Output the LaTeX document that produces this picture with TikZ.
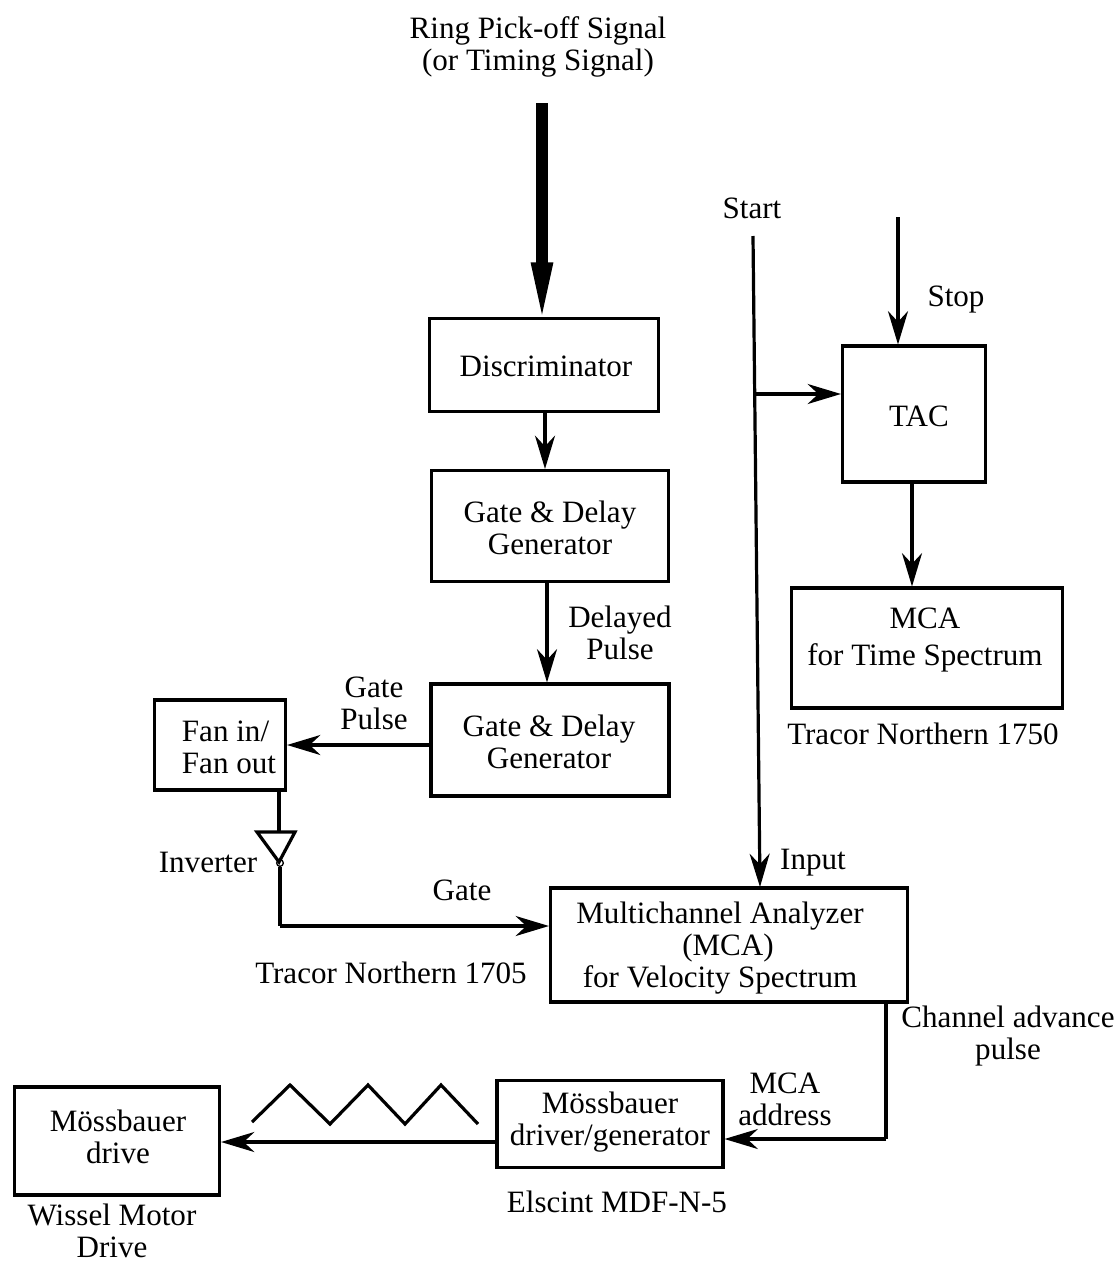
\documentclass[tikz,border=0pt]{standalone}
\usepackage{fontspec}
\setmainfont{Liberation Serif}
\usetikzlibrary{arrows.meta}
\tikzset{
  box/.style={draw,line width=2.3pt,inner sep=0pt},
  lbl/.style={inner sep=0pt,align=center,font=\fontsize{23.3}{24}\selectfont},
  conn/.style={line width=2.4pt,-{Stealth[length=25pt,width=15pt,inset=8pt]}},
  wire/.style={line width=2.4pt,line join=miter},
  bigarrow/.style={line width=8.5pt,shorten >=-9pt,-{Triangle[length=50pt,width=14pt]}}
}
\newcommand{\bx}[8]{\node[box,minimum width=#4*0.75pt,minimum height=#5*0.75pt,
  label={[lbl,xshift=#6*0.75pt,yshift=#7*-0.75pt]center:{#8}}] (#1) at (#2,#3) {};}
\begin{document}
\begin{tikzpicture}[x=0.75pt,y=-0.75pt]
\useasboundingbox (0,0) rectangle (1116,1264);
\bx{disc}{544}{365}{229}{93}{2}{1}{Discriminator}
\bx{gdone}{550}{526}{237}{111}{0}{2}{Gate \& Delay\\Generator}
\bx{gdtwo}{550}{740}{238}{112}{-1}{2}{Gate \& Delay\\Generator}
\bx{fan}{220}{745}{131}{90}{9}{6}{\begin{tabular}{@{}l@{}}Fan in/\\Fan out\end{tabular}}
\bx{tac}{914}{414}{143}{136}{5}{2}{TAC}
\bx{mcat}{927}{648}{271}{120}{-2}{-8}{MCA\\[3.7pt]for Time Spectrum}
\bx{mca}{729}{945}{357}{114}{-9}{3}{Multichannel Analyzer\\\hspace*{12pt}(MCA)\\for Velocity Spectrum}
\bx{mdrv}{610}{1124}{226}{87}{0}{-2}{Mössbauer\\driver/generator}
\bx{drive}{117}{1141}{205}{108}{1}{-4}{Mössbauer\\drive}

\node[lbl] (title) at (538,47) {Ring Pick-off Signal\\(or Timing Signal)};
\coordinate (tin) at (542,103);
\draw[bigarrow] (tin) -- (disc.north -| tin);
\coordinate (a0) at (545,0);
\draw[conn] (disc.south -| a0) -- (gdone.north -| a0);
\coordinate (a1) at (547,0);
\draw[conn] (gdone.south -| a1) -- (gdtwo.north -| a1);
\node[lbl] (dp) at (620,633) {Delayed\\Pulse};
\coordinate (a2) at (0,745);
\draw[conn] (gdtwo.west |- a2) -- (fan.east |- a2);
\node[lbl] (gp) at (374,703) {Gate\\Pulse};
\node[lbl] (start) at (752,208) {Start};
\coordinate (st) at (753,236);
\coordinate (sb) at (760,887);
\draw[conn] (st) -- (sb);
\coordinate (br) at (756,394);
\draw[conn] (br) -- (tac.west |- br);
\coordinate (sp) at (898,217);
\draw[conn] (sp) -- (tac.north -| sp);
\node[lbl] (stop) at (956,300) {Stop};
\coordinate (a3) at (912,0);
\draw[conn] (tac.south -| a3) -- (mcat.north -| a3);
\node[lbl] (tn1) at (923,734) {Tracor Northern 1750};
\node[lbl] (inp) at (813,863) {Input};
\coordinate (inva) at (257,832);
\coordinate (invb) at (295,832);
\coordinate (invc) at (279,862);
\draw[wire] (inva) -- (invb) -- (invc) -- cycle;
\draw[wire] (fan.south -| invc) -- (invc |- inva);
\node[draw,line width=1pt,circle,minimum size=5pt,inner sep=0pt] (invdot) at (280,863) {};
\node[lbl] (inv) at (208,862) {Inverter};
\coordinate (gc) at (280,926);
\draw[wire] (invdot.south) -- (gc);
\draw[conn] (gc) -- (mca.west |- gc);
\node[lbl] (gt) at (462,890) {Gate};
\node[lbl] (tn2) at (391,973) {Tracor Northern 1705};
\coordinate (ca) at (886,1139);
\draw[wire] (mca.south -| ca) -- (ca);
\draw[conn] (ca) -- (mdrv.east |- ca);
\node[lbl] (cap) at (1008,1036) {Channel advance\\pulse};
\node[lbl] (maddr) at (785,1099) {MCA\\address};
\coordinate (a4) at (0,1142);
\draw[conn] (mdrv.west |- a4) -- (drive.east |- a4);
\coordinate (z0) at (252,1122);
\coordinate (z1) at (290,1085);
\coordinate (z2) at (330,1124);
\coordinate (z3) at (368,1085);
\coordinate (z4) at (405,1124);
\coordinate (z5) at (441,1085);
\coordinate (z6) at (478,1124);
\draw[wire] (z0)--(z1)--(z2)--(z3)--(z4)--(z5)--(z6);
\node[lbl] (els) at (617,1202) {Elscint MDF-N-5};
\node[lbl] (wis) at (112,1231) {Wissel Motor\\Drive};
\end{tikzpicture}
\end{document}
